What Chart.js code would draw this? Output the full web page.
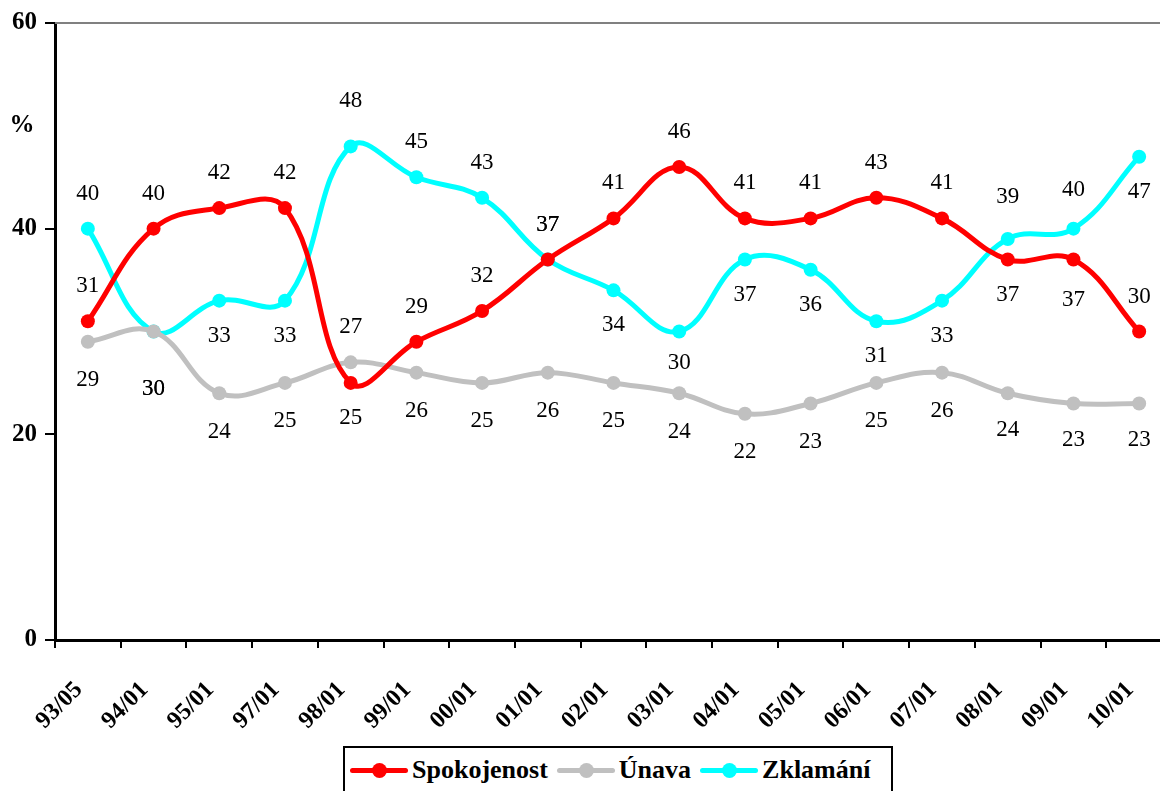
<!DOCTYPE html>
<html>
<head>
<meta charset="utf-8">
<script src="https://cdn.jsdelivr.net/npm/chart.js@4"></script>
<style>
    body { margin: 0; overflow: hidden; background: #fff; }
    #wrap { position: relative; width: 1179px; height: 791px; }
    #legend {
        position: absolute; left: 343px; top: 746px; width: 550px; height: 60px;
        box-sizing: border-box; border: 2px solid #000; background: #fff;
        display: flex; align-items: flex-start; padding: 7px 0 0 5px;
        font-family: 'Liberation Serif', serif; font-weight: bold; font-size: 26px;
    }
    .item { display: flex; align-items: center; margin-right: 9px; }
    .swatch { position: relative; width: 58px; height: 5px; border-radius: 3px; margin-right: 4px; }
    .swatch span { position: absolute; left: 22px; top: -5px; width: 15px; height: 15px; border-radius: 50%; }
</style>
</head>
<body>
<div id="wrap">
    <canvas id="lineChart"></canvas>
    <div id="legend"></div>
</div>
<script>
const categories = ['93/05', '94/01', '95/01', '97/01', '98/01', '99/01', '00/01', '01/01', '02/01',
    '03/01', '04/01', '05/01', '06/01', '07/01', '08/01', '09/01', '10/01'];
const spokojenost = [31, 40, 42, 42, 25, 29, 32, 37, 41, 46, 41, 41, 43, 41, 37, 37, 30];
const unava = [29, 30, 24, 25, 27, 26, 25, 26, 25, 24, 22, 23, 25, 26, 24, 23, 23];
const zklamani = [40, 30, 33, 33, 48, 45, 43, 37, 34, 30, 37, 36, 31, 33, 39, 40, 47];
const yTicks = [0, 20, 40, 60];

// strana popisku: kladne = nad bodem, zaporne = pod bodem
const sideSpokojenost = [1, 1, 1, 1, -1, 1, 1, 1, 1, 1, 1, 1, 1, 1, -1, -1.15, 1];
const sideUnava = [-1.1, -1.65, -1.1, -1.1, 1, -1.1, -1.1, -1.1, -1.1, -1.1, -1.1, -1.1, -1.1, -1.1, -1.05, -1.05, -1.05];
const sideZklamani = [1, -1.65, -1, -1, 1.3, 1, 1, 1, -1, -0.9, -1, -1, -1, -1, 1.2, 1.1, -1];

const series = [
    { label: 'Spokojenost', data: spokojenost, side: sideSpokojenost, color: '#ff0000' },
    { label: 'Únava', data: unava, side: sideUnava, color: '#c0c0c0' },
    { label: 'Zklamání', data: zklamani, side: sideZklamani, color: '#00ffff' }
];

// legenda jako HTML
const legendEl = document.getElementById('legend');
series.forEach(s => {
    const item = document.createElement('div');
    item.className = 'item';
    item.innerHTML = `<span class="swatch" style="background:${s.color}"><span style="background:${s.color}"></span></span>${s.label}`;
    legendEl.appendChild(item);
});

const serif = "'Liberation Serif', serif";

// popisky hodnot a dalsi kresleni
const extrasPlugin = {
    id: 'extras',
    beforeDatasetsDraw(chart) {
        const { ctx, chartArea } = chart;
        ctx.save();
        ctx.strokeStyle = '#808080';
        ctx.lineWidth = 2;
        ctx.beginPath();
        ctx.moveTo(chartArea.left, chartArea.top);
        ctx.lineTo(chartArea.right, chartArea.top);
        ctx.stroke();
        // znak % u osy y
        const y = chart.scales.y.getPixelForValue(50);
        ctx.fillStyle = '#000';
        ctx.font = 'bold 25px ' + serif;
        ctx.textAlign = 'center';
        ctx.textBaseline = 'middle';
        ctx.fillText('%', 22, y);
        ctx.restore();
    },
    afterDatasetsDraw(chart) {
        const ctx = chart.ctx;
        ctx.save();
        ctx.fillStyle = '#000';
        ctx.font = '23px ' + serif;
        ctx.textAlign = 'center';
        ctx.textBaseline = 'middle';
        chart.data.datasets.forEach((ds, i) => {
            const meta = chart.getDatasetMeta(i);
            meta.data.forEach((pt, j) => {
                ctx.fillText(ds.data[j], pt.x, pt.y - ds.labelSide[j] * 35);
            });
        });
        ctx.restore();
    }
};

Chart.defaults.font.family = serif;

const ctx = document.getElementById('lineChart').getContext('2d');
new Chart(ctx, {
    type: 'line',
    data: {
        labels: categories,
        datasets: series.map(s => ({
            label: s.label,
            data: s.data,
            labelSide: s.side,
            borderColor: s.color,
            backgroundColor: s.color,
            borderWidth: 5,
            pointRadius: 7,
            pointHoverRadius: 7,
            pointBorderWidth: 0,
            tension: 0.4,
            fill: false
        }))
    },
    options: {
        responsive: true,
        maintainAspectRatio: false,
        animation: false,
        layout: { padding: { top: 10, left: 0, right: 0, bottom: 0 } },
        scales: {
            x: {
                offset: true,
                border: { color: '#000', width: 3 },
                grid: { offset: true, drawOnChartArea: false, color: '#000', lineWidth: 2, tickLength: 8 },
                ticks: {
                    color: '#000',
                    minRotation: 45,
                    maxRotation: 45,
                    padding: 28,
                    labelOffset: -9,
                    font: { family: serif, weight: 'bold', size: 24 }
                },
                afterFit(scale) {
                    scale.height = 151;
                    scale.paddingLeft = 0;
                    scale.paddingRight = 0;
                }
            },
            y: {
                min: 0,
                max: 60,
                afterBuildTicks(scale) { scale.ticks = yTicks.map(v => ({ value: v })); },
                border: { color: '#000', width: 3 },
                grid: { drawOnChartArea: false, color: '#000', lineWidth: 2, tickLength: 10 },
                ticks: {
                    color: '#000',
                    padding: 8,
                    font: { family: serif, weight: 'bold', size: 25 }
                },
                afterFit(scale) { scale.width = 55; }
            }
        },
        plugins: {
            legend: { display: false },
            tooltip: { enabled: false }
        }
    },
    plugins: [extrasPlugin]
});
</script>
</body>
</html>
